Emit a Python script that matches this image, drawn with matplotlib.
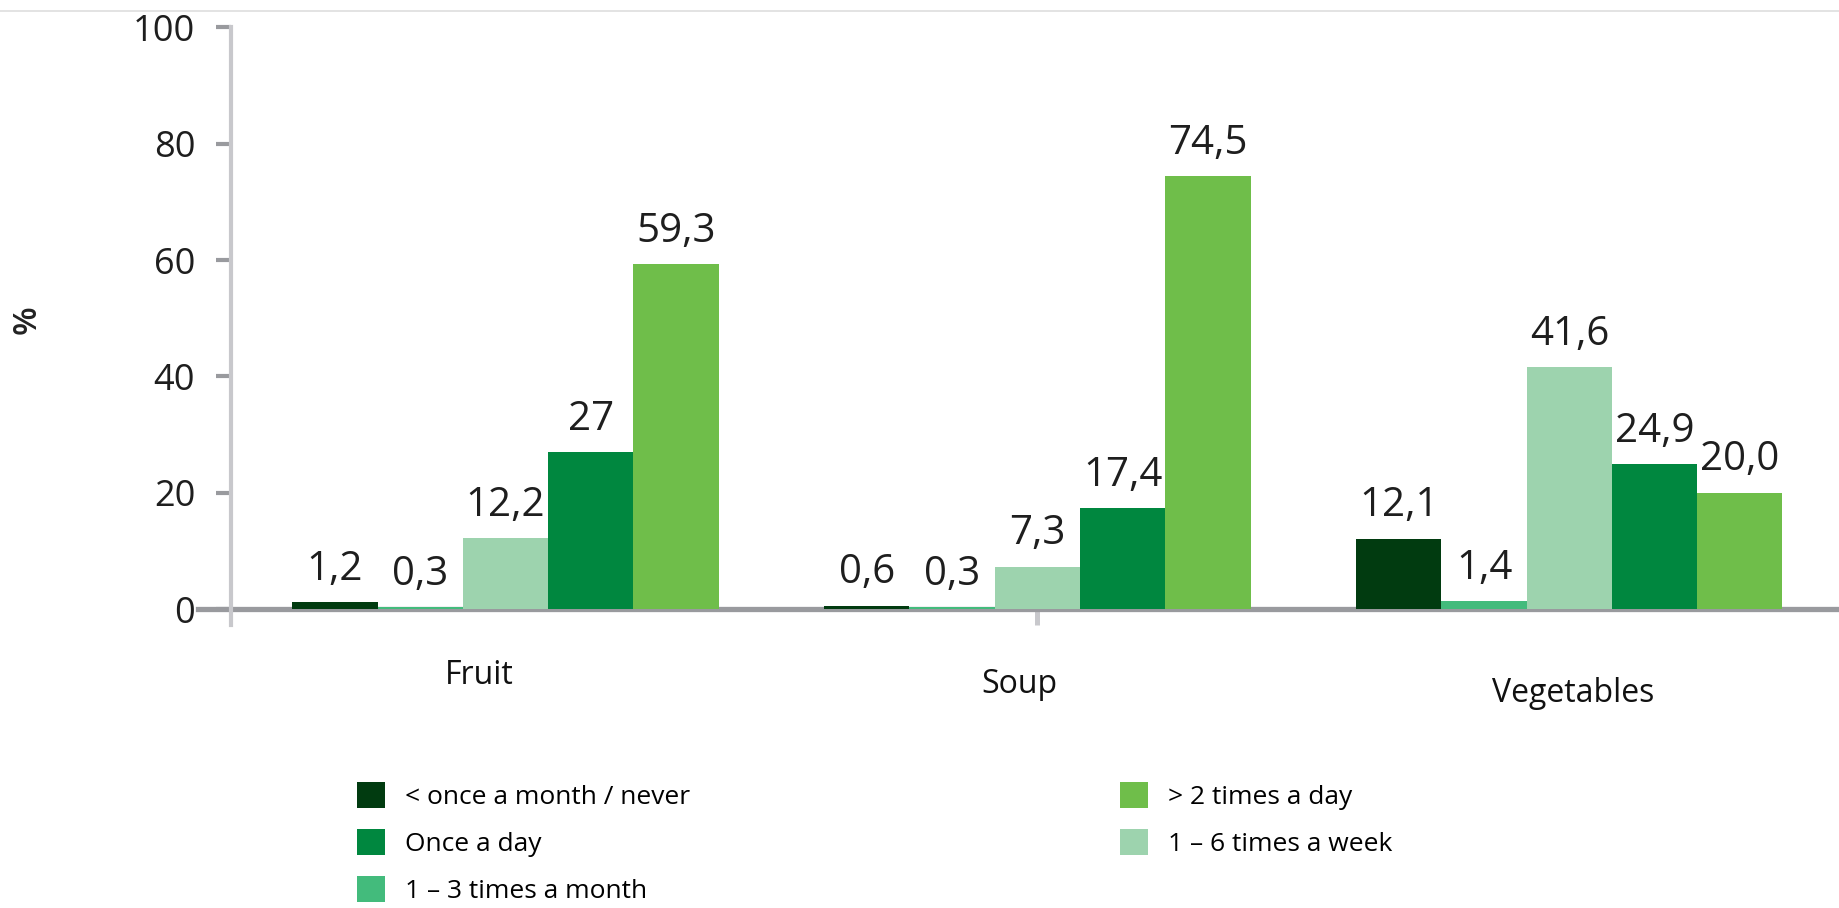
import numpy as np
import matplotlib.pyplot as plt
from matplotlib.patches import Patch
from matplotlib.lines import Line2D
import matplotlib.transforms as mtransforms

plt.rcParams['font.family'] = ['Open Sans', 'DejaVu Sans']

categories = ["Fruit", "Soup", "Vegetables"]
series = ["< once a month / never", "1 – 3 times a month", "1 – 6 times a week",
          "Once a day", "> 2 times a day"]
colors = ["#013b10", "#43bb7c", "#9dd3ae", "#00873f", "#6fbe4a"]

never = [1.2, 0.6, 12.1]
month = [0.3, 0.3, 1.4]
week = [12.2, 7.3, 41.6]
once_day = [27, 17.4, 24.9]
twice_day = [59.3, 74.5, 20.0]
values = [never, month, week, once_day, twice_day]

labels = [["1,2", "0,6", "12,1"],
          ["0,3", "0,3", "1,4"],
          ["12,2", "7,3", "41,6"],
          ["27", "17,4", "24,9"],
          ["59,3", "74,5", "20,0"]]

# legend order as in the picture (column-wise)
legend_order = [0, 3, 1, 4, 2]

W, H = 1839, 908
fig = plt.figure(figsize=(W / 100, H / 100), dpi=100)
ax = fig.add_axes([231 / W, 1 - 625 / H, (W - 231) / W, (625 - 27.5) / H])

x = np.arange(len(categories))
w = 0.1603
for i, (vals, col) in enumerate(zip(values, colors)):
    xs = x + (i - 2) * w
    ax.bar(xs, vals, width=w, color=col, zorder=3)
    for xx, v, lb in zip(xs, vals, labels[i]):
        ax.annotate(lb, (xx, v), xytext=(0, 16), textcoords='offset points',
                    ha='center', va='baseline', fontsize=29, color='#1e1e1e', zorder=4)

ax.set_xlim(-0.516, 2.507)
ax.set_ylim(-2.75, 100)
ax.set_yticks([0, 20, 40, 60, 80, 100])
ax.tick_params(axis='y', length=10.8, width=3, color='#999a9e', pad=15,
               labelsize=26, labelcolor='#1e1e1e')
ax.set_xticks([1])
ax.set_xticklabels([''])
ax.tick_params(axis='x', direction='in', length=11.5, width=3.6, color='#c8c8cc')

for s in ['top', 'right', 'bottom']:
    ax.spines[s].set_visible(False)
ax.spines['left'].set_color('#c8c8cc')
ax.spines['left'].set_linewidth(3)

ax.axhline(0, xmin=-0.0205, xmax=1, color='#999a9e', lw=3.8, clip_on=False, zorder=2)

# category labels, placed as in the reference
cat_dx = [-0.05, -0.034, 0.008]
cat_y = [684, 693, 702]
trans = mtransforms.blended_transform_factory(ax.transData, fig.transFigure)
for i, c in enumerate(categories):
    fig.text(x[i] + cat_dx[i], 1 - cat_y[i] / H, c, transform=trans, ha='center',
             va='baseline', fontsize=23, color='#111111')

fig.text(27.5 / W, 1 - 320 / H, "%", rotation=90, ha='center', va='center',
         fontsize=24, fontweight='semibold', color='#222222')

handles = [Patch(facecolor=colors[i], edgecolor='none') for i in legend_order]
leg_labels = [series[i] for i in legend_order]
fig.legend(handles, leg_labels, ncol=2, loc='upper left',
           bbox_to_anchor=(357 / W, 1 - 782 / H), frameon=False, fontsize=19,
           handlelength=1.06, handleheight=1.13, handletextpad=0.75,
           labelspacing=0.72, columnspacing=16.3, borderpad=0, borderaxespad=0)

fig.add_artist(Line2D([0, 1], [1 - 11 / H, 1 - 11 / H], transform=fig.transFigure,
                      color='#dedede', lw=1.2))

fig.savefig("out.png", dpi=100, facecolor='white')
